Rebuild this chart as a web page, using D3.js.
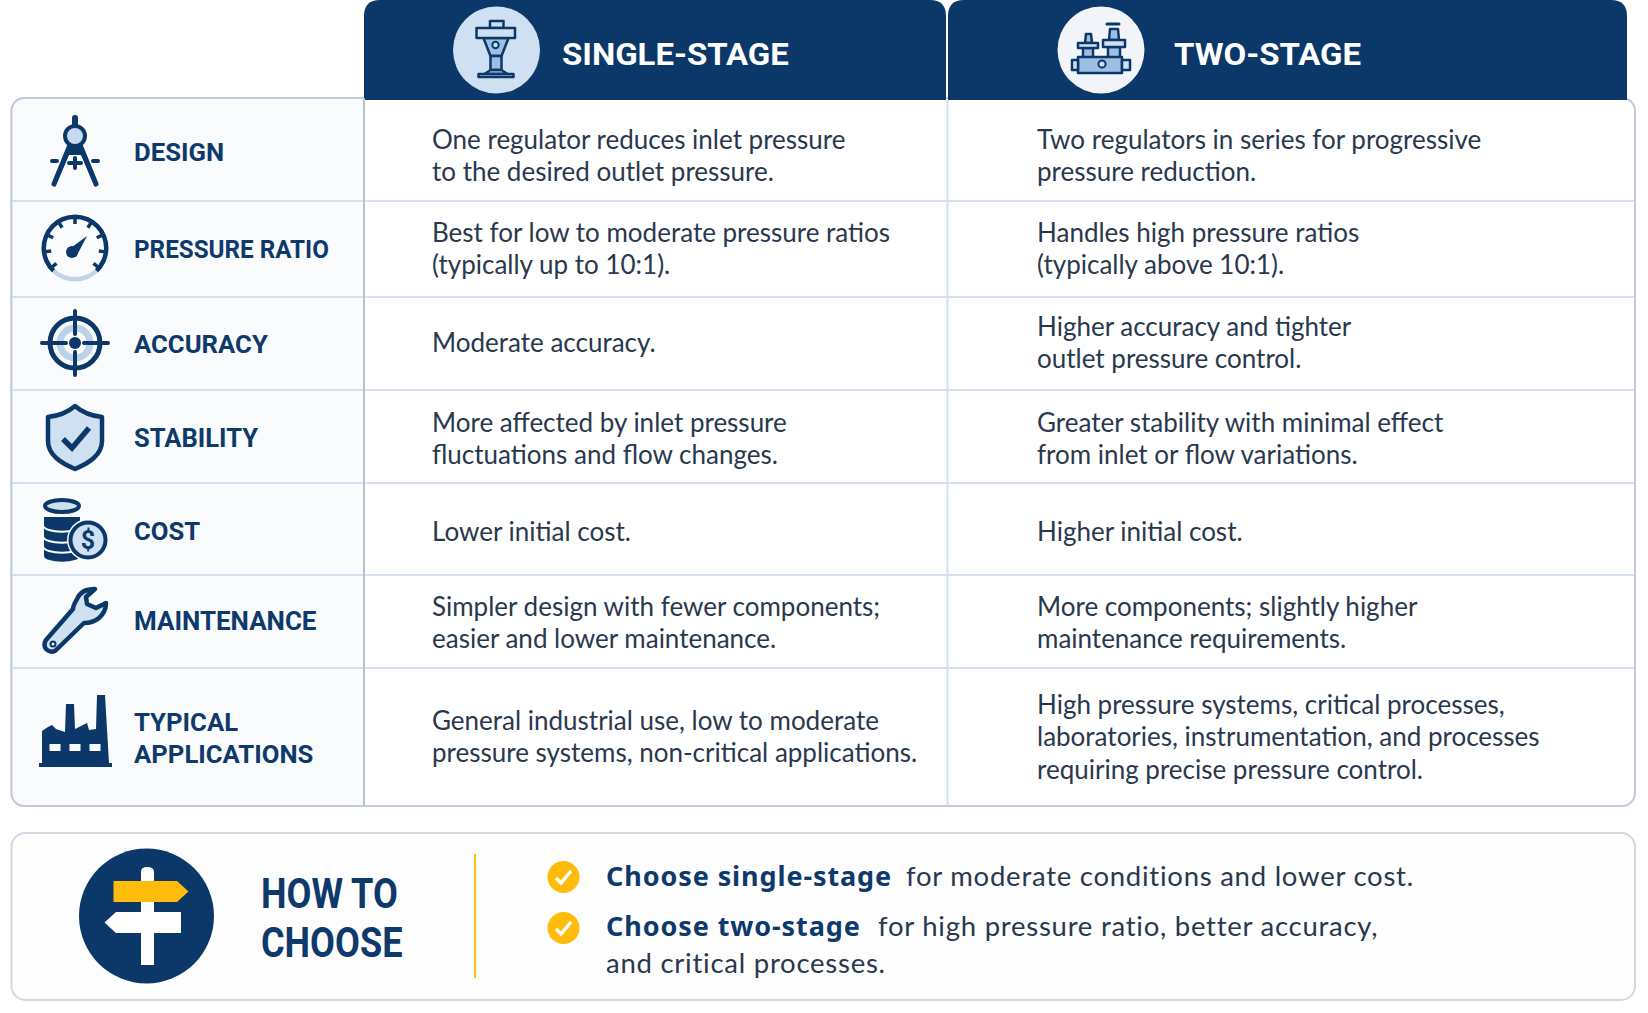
<!DOCTYPE html>
<html>
<head>
<meta charset="utf-8">
<script src="https://cdn.jsdelivr.net/npm/d3@7"></script>
<style>
html,body {margin:0;padding:0;background:#fff;}
svg {display:block;}
.lab {font-family:Roboto,sans-serif;font-weight:700;fill:#0e3a6b;}
.body {font-family:Lato,sans-serif;font-size:26px;fill:#2a384e;}
.wide {font-size:27.5px;letter-spacing:0.75px;}
</style>
</head>
<body>
<svg id="chart" width="1648" height="1013"></svg>
<script>
// table content
var columns=['SINGLE-STAGE','TWO-STAGE'];
var features=[['DESIGN'],['PRESSURE RATIO'],['ACCURACY'],['STABILITY'],['COST'],['MAINTENANCE'],['TYPICAL','APPLICATIONS']];
var singleStage=[
	['One regulator reduces inlet pressure','to the desired outlet pressure.'],
	['Best for low to moderate pressure ratios','(typically up to 10:1).'],
	['Moderate accuracy.'],
	['More affected by inlet pressure','fluctuations and flow changes.'],
	['Lower initial cost.'],
	['Simpler design with fewer components;','easier and lower maintenance.'],
	['General industrial use, low to moderate','pressure systems, non-critical applications.']
];
var twoStage=[
	['Two regulators in series for progressive','pressure reduction.'],
	['Handles high pressure ratios','(typically above 10:1).'],
	['Higher accuracy and tighter','outlet pressure control.'],
	['Greater stability with minimal effect','from inlet or flow variations.'],
	['Higher initial cost.'],
	['More components; slightly higher','maintenance requirements.'],
	['High pressure systems, critical processes,','laboratories, instrumentation, and processes','requiring precise pressure control.']
];
var choose=[
	{bold:'Choose single-stage',rest:'for moderate conditions and lower cost.'},
	{bold:'Choose two-stage',rest:'for high pressure ratio, better accuracy,'}
];
var chooseTail='and critical processes.';
var howTo=['HOW TO','CHOOSE'];

// layout
var rowEdges=[98,201,297,390,483,575,668,806];
var rowBase=[165,258,352,448,541,632,746];   // middle of the text block in each row
var labelBase=[161,258,353,447,540,630,731];
var labelScale=[0.97,0.915,0.97,0.965,0.97,0.98,0.97];
var iconY=[151,248,343,437,529,620,731];
var NAVY='#0b3868', LIGHT='#cfe0f3', YEL='#ffbc0a';
var colX=[364,947,1627], textX=[432,1037], lineH=32.5;

var svg=d3.select('#chart');

function rline(g,x1,y1,x2,y2,col,w) {
	return g.append('line').attr('x1',x1).attr('y1',y1).attr('x2',x2).attr('y2',y2)
		.attr('stroke',col).attr('stroke-width',w);
}

// outer table
svg.append('rect').attr('x',11.5).attr('y',98).attr('width',1623.5).attr('height',708).attr('rx',13)
	.attr('fill','#fff').attr('stroke','#c3cbdb').attr('stroke-width',2);
svg.append('path').attr('d','M364,98H24.5a13,13 0 0 0 -13,13V793a13,13 0 0 0 13,13H364Z').attr('fill','#fafbfc')
	.attr('stroke','#c3cbdb').attr('stroke-width',2);

// header tabs
svg.selectAll('path.tab').data(columns).enter().append('path').attr('class','tab')
	.attr('d',function(d,i){
		var a=colX[i]+(i?1:0), b=colX[i+1]-(i?0:1);
		return 'M'+a+',100V16Q'+a+',0 '+(a+16)+',0H'+(b-16)+'Q'+b+',0 '+b+',16V100Z';
	}).attr('fill',NAVY);
svg.selectAll('text.hd').data(columns).enter().append('text').attr('class','lab hd')
	.attr('font-size',32).style('fill','#fff')
	.attr('transform',function(d,i){return 'translate('+[562,1174][i]+',65) scale(1.03,1)';})
	.text(function(d){return d;});
svg.append('circle').attr('cx',496.5).attr('cy',50).attr('r',43.5).attr('fill',LIGHT);
svg.append('circle').attr('cx',1101).attr('cy',50).attr('r',43.5).attr('fill','#f1f5f9');

// row dividers
rowEdges.slice(1,-1).forEach(function(y){
	rline(svg,12,y,1634,y,'#d6e1ef',2);
});
rline(svg,364,98,364,806,'#b7c1d3',2);
rline(svg,947.5,100,947.5,806,'#d2dff0',2);

// row labels
var rows=svg.selectAll('g.row').data(features).enter().append('g').attr('class','row');
rows.each(function(d,i){
	var g=d3.select(this);
	d.forEach(function(s,k){
		g.append('text').attr('class','lab').attr('font-size',26.5)
			.attr('transform','translate(134,'+(labelBase[i]+k*32)+') scale('+labelScale[i]+',1)').text(s);
	});
});

// body cells
[singleStage,twoStage].forEach(function(col,c){
	col.forEach(function(lines,r){
		var first=rowBase[r]-(lines.length-1)*lineH/2;
		svg.selectAll(null).data(lines).enter().append('text').attr('class','body')
			.attr('x',textX[c]).attr('y',function(d,k){return first+k*lineH;})
			.text(function(d){return d;});
	});
});

// icons
var I=svg.append('g').attr('class','icons');
function icon(i){return I.append('g').attr('transform','translate(75,'+iconY[i]+')');}
function P(g,d,fill,stroke,w){
	return g.append('path').attr('d',d).attr('fill',fill||'none').attr('stroke',stroke||'none')
		.attr('stroke-width',w||0).attr('stroke-linejoin','round').attr('stroke-linecap','round');
}
// compass
var g=icon(0);
P(g,'M0,-33V-24','none',NAVY,6);
P(g,'M-4,-8L-22,34L-20,36L-6,4L6,4L20,36L22,34L4,-8Z',NAVY);
P(g,'M-5,-6L-21,33M5,-6L21,33','none',NAVY,5);
g.append('circle').attr('cy',-15).attr('r',10).attr('fill','#c5d9ef').attr('stroke',NAVY).attr('stroke-width',4);
P(g,'M-23,10H-18M18,10H23M-6,12H6M0,7V17','none',NAVY,4);
// gauge
g=icon(1);
var arc=d3.arc().innerRadius(29).outerRadius(33.5);
P(g,arc({startAngle:-Math.PI*0.76,endAngle:Math.PI*0.76}),NAVY);
P(g,arc({startAngle:Math.PI*0.76,endAngle:Math.PI*1.24}),'#c2d3e8');
d3.range(-4,5).forEach(function(k){
	var a=k*Math.PI*0.18;
	P(g,'M'+Math.sin(a)*24+','+(-Math.cos(a)*24)+'L'+Math.sin(a)*31+','+(-Math.cos(a)*31),'none',NAVY,3.5).attr('stroke-linecap','butt');
});
P(g,'M-7,2L12,-12L1,9Z',NAVY);
g.append('circle').attr('cx',-3).attr('cy',4).attr('r',6).attr('fill',NAVY);
// target
g=icon(2);
g.append('circle').attr('r',25).attr('fill','#fafbfc').attr('stroke',NAVY).attr('stroke-width',5);
g.append('circle').attr('r',15).attr('fill','none').attr('stroke','#bcd2ea').attr('stroke-width',7);
P(g,'M0,-32V-9M0,9V32M-33,0H-9M9,0H33','none',NAVY,4);
g.append('circle').attr('r',6).attr('fill',NAVY);
// shield
g=icon(3);
P(g,'M0,-31C8,-24 17,-21 27,-20V4C27,18 14,26 0,32C-14,26 -27,18 -27,4V-20C-17,-21 -8,-24 0,-31Z',LIGHT,NAVY,4.5);
P(g,'M-12,2L-3,11L14,-9','none',NAVY,5.5).attr('stroke-linecap','butt').attr('stroke-linejoin','miter');
// coins
g=icon(4);
[27,17,7,-4].forEach(function(y){
	P(g,'M-32,'+(y-9)+'V'+(y)+'C-32,'+(y+9)+' 6,'+(y+9)+' 6,'+y+'V'+(y-9)+'Z',NAVY,'#fafbfc',2);
});
g.append('ellipse').attr('cx',-13).attr('cy',-23).attr('rx',17).attr('ry',6).attr('fill',LIGHT).attr('stroke',NAVY).attr('stroke-width',4);
g.append('circle').attr('cx',13).attr('cy',11).attr('r',21).attr('fill','#fafbfc');
g.append('circle').attr('cx',13).attr('cy',11).attr('r',17.5).attr('fill',LIGHT).attr('stroke',NAVY).attr('stroke-width',4);
g.append('text').attr('x',13).attr('y',20).attr('text-anchor','middle').attr('class','lab').attr('font-size',25).text('$');
// wrench
g=icon(5);
P(g,'M20,-31Q6,-31 2,-21Q-2,-14 -2,-11L-29,20Q-32,25 -29,29Q-25,33 -20,31L9,3Q18,3 24,-2Q31,-8 31,-17L21,-12L12,-16L11,-23Z',LIGHT,NAVY,4.5);
g.append('circle').attr('cx',-22).attr('cy',24).attr('r',2.5).attr('fill','#fafbfc').attr('stroke',NAVY).attr('stroke-width',2);
// factory
g=icon(6);
P(g,'M-36,36V32H-33V0L-27,-4L-23,-6L-19,-2L-10,1L-9,-27H-1L0,-2L12,-8L14,-1L21,-2L22,-36H30L34,32H37V36Z',NAVY);
[-20,0,20].forEach(function(x){
	g.append('rect').attr('x',x-5.5).attr('y',13).attr('width',11).attr('height',7).attr('fill','#fafbfc');
});

// header icons
g=svg.append('g').attr('transform','translate(496.5,50)');
var MID='#9fbfe2';
P(g,'M-6.5,-22V-29H7V-22Z',LIGHT,NAVY,2.5);
P(g,'M-13,-12L-6,6H5L12,-12Z',MID,NAVY,2.5);
P(g,'M-6,6H5V20H-6Z',MID,NAVY,2.5);
P(g,'M-6,20L-12,24H11L5,20Z',MID,NAVY,2.5);
P(g,'M-18,27V24H17V27Z',LIGHT,NAVY,2.5);
P(g,'M-20,-22H18.5V-12H-20Z',LIGHT,NAVY,2.5);
g.append('circle').attr('cx',-1).attr('cy',-5).attr('r',3.2).attr('fill',LIGHT).attr('stroke',NAVY).attr('stroke-width',2);

g=svg.append('g').attr('transform','translate(1101,50)');
// left regulator
P(g,'M-16,-7L-15,-16H-10L-9,-7Z',MID,NAVY,2.5);
P(g,'M-18,-2H-8V8H-18Z',MID,NAVY,2.5);
P(g,'M-23,-7H-3V-2H-23Z',LIGHT,NAVY,2.5);
// right regulator
P(g,'M8,-10L9,-21H17L18,-10Z',MID,NAVY,2.5);
P(g,'M6,-26H18','none',NAVY,3);
P(g,'M7,-3H19V8H7Z',MID,NAVY,2.5);
P(g,'M2,-10H24V-3H2Z',LIGHT,NAVY,2.5);
// base with flanges
P(g,'M-23,7H21V23H-23Z',MID,NAVY,2.5);
P(g,'M-29,10H-23V20H-29ZM21,10H29V20H21Z',LIGHT,NAVY,2.5);
g.append('circle').attr('cx',1).attr('cy',14).attr('r',3.6).attr('fill',LIGHT).attr('stroke',NAVY).attr('stroke-width',2);

// how to choose box
svg.append('rect').attr('x',11.5).attr('y',833).attr('width',1623.5).attr('height',167).attr('rx',14)
	.attr('fill','#fdfdfe').attr('stroke','#d3d8e2').attr('stroke-width',2);
svg.append('circle').attr('cx',146.5).attr('cy',916).attr('r',67.5).attr('fill',NAVY);
g=svg.append('g');
P(g,'M141,872Q141,867 147,867Q154,867 154,872V965H141Z','#fff');
P(g,'M113.5,881H177L188.5,891.5L177,902H113.5Z',YEL);
P(g,'M181,912V933H116L104.5,922.5L116,912Z','#fff');
svg.selectAll('text.how').data(howTo).enter().append('text').attr('class','lab how').attr('font-size',42)
	.attr('transform',function(d,i){return 'translate(261,'+(908+i*49)+') scale(0.86,1)';})
	.text(function(d){return d;});
rline(svg,475,854,475,978,YEL,2);

var chooseY=[886,936];
var items=svg.selectAll('g.item').data(choose).enter().append('g').attr('class','item');
items.append('circle').attr('cx',563.5).attr('cy',function(d,i){return [877,928][i];}).attr('r',16).attr('fill',YEL);
items.append('path').attr('d',function(d,i){var y=[877,928][i];return 'M556,'+(y+1)+'L561,'+(y+6)+'L571,'+(y-6);})
	.attr('fill','none').attr('stroke','#fff').attr('stroke-width',3.5);
items.append('text').attr('x',606).attr('y',function(d,i){return chooseY[i];})
	.attr('font-family','Noto Sans').attr('font-weight',700).attr('font-size',27).attr('letter-spacing',0.9).attr('fill','#0e3a6b')
	.text(function(d){return d.bold;});
items.append('text').attr('class','body wide').attr('x',function(d,i){return [906,878][i];}).attr('y',function(d,i){return chooseY[i];})
	.text(function(d){return d.rest;});
svg.append('text').attr('class','body wide').attr('x',606).attr('y',973).text(chooseTail);
</script>
</body>
</html>
